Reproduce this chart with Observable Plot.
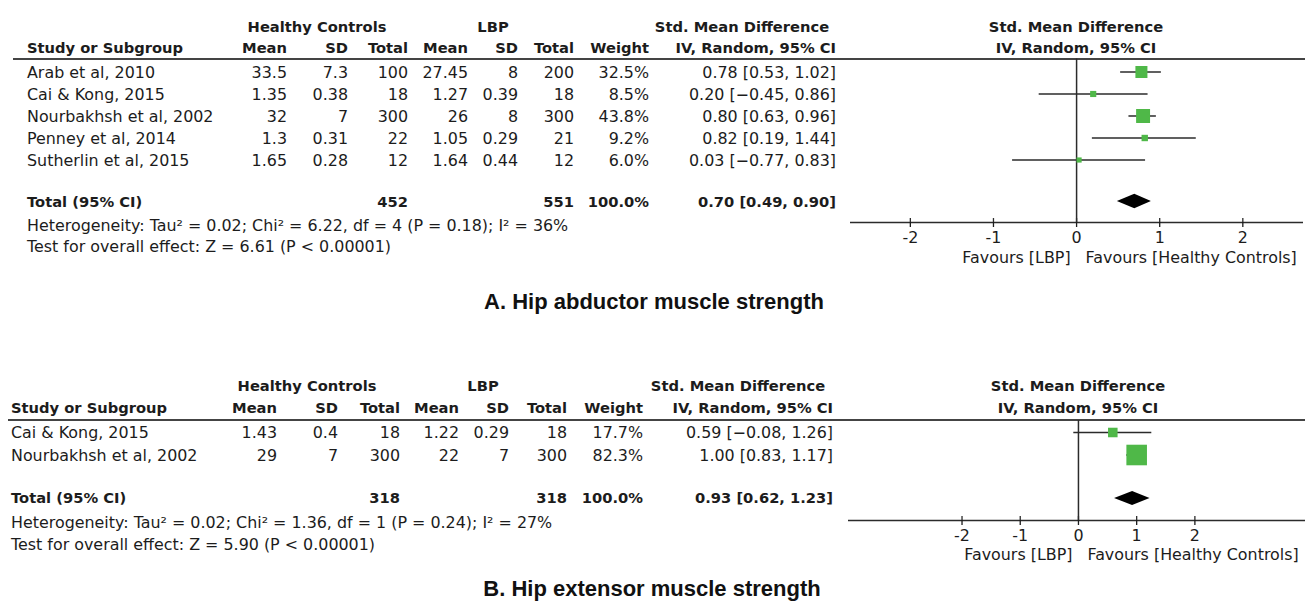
<!DOCTYPE html>
<html><head><meta charset="utf-8">
<script src="https://cdn.jsdelivr.net/npm/d3@7"></script>
<script src="https://cdn.jsdelivr.net/npm/@observablehq/plot@0.6"></script>
<style>
html,body{margin:0;padding:0;background:#fff;}
#page{position:relative;width:1305px;height:603px;overflow:hidden;font-family:"DejaVu Sans",sans-serif;color:#1c1c1c;}
.t{position:absolute;white-space:nowrap;line-height:1;font-size:15.9px;}
.b{font-weight:bold;font-size:14.7px;}
.rule{position:absolute;height:2px;background:#444;}
.cap{font-family:"Liberation Sans",Arial,sans-serif;font-weight:bold;font-size:22px;color:#111;}
.chart{position:absolute;}
</style></head><body><div id="page"></div>
<script>
// ---------- data: panel A (hip abductor) ----------
const studiesA = ["Arab et al, 2010", "Cai & Kong, 2015", "Nourbakhsh et al, 2002", "Penney et al, 2014", "Sutherlin et al, 2015"];
const hcMeanA = [33.5, 1.35, 32, 1.3, 1.65];
const hcSdA = [7.3, 0.38, 7, 0.31, 0.28];
const hcTotalA = [100, 18, 300, 22, 12];
const lbpMeanA = [27.45, 1.27, 26, 1.05, 1.64];
const lbpSdA = [8, 0.39, 8, 0.29, 0.44];
const lbpTotalA = [200, 18, 300, 21, 12];
const weightA = [32.5, 8.5, 43.8, 9.2, 6.0];
const smdA = [0.78, 0.20, 0.80, 0.82, 0.03];
const loA = [0.53, -0.45, 0.63, 0.19, -0.77];
const hiA = [1.02, 0.86, 0.96, 1.44, 0.83];
const totalsA = [452, 551];            // healthy controls, LBP
const pooledA = [0.70, 0.49, 0.90];    // estimate, lower, upper
const hetA = "Heterogeneity: Tau² = 0.02; Chi² = 6.22, df = 4 (P = 0.18); I² = 36%";
const testA = "Test for overall effect: Z = 6.61 (P < 0.00001)";
const captionA = "A. Hip abductor muscle strength";

// ---------- data: panel B (hip extensor) ----------
const studiesB = ["Cai & Kong, 2015", "Nourbakhsh et al, 2002"];
const hcMeanB = [1.43, 29];
const hcSdB = [0.4, 7];
const hcTotalB = [18, 300];
const lbpMeanB = [1.22, 22];
const lbpSdB = [0.29, 7];
const lbpTotalB = [18, 300];
const weightB = [17.7, 82.3];
const smdB = [0.59, 1.00];
const loB = [-0.08, 0.83];
const hiB = [1.26, 1.17];
const totalsB = [318, 318];
const pooledB = [0.93, 0.62, 1.23];
const hetB = "Heterogeneity: Tau² = 0.02; Chi² = 1.36, df = 1 (P = 0.24); I² = 27%";
const testB = "Test for overall effect: Z = 5.90 (P < 0.00001)";
const captionB = "B. Hip extensor muscle strength";

// shared labels
const colHeaders = ["Mean", "SD", "Total", "Mean", "SD", "Total", "Weight", "IV, Random, 95% CI"];
const groupHeaders = ["Healthy Controls", "LBP", "Std. Mean Difference"];
const axisTicks = [-2, -1, 0, 1, 2];
const favours = ["Favours [LBP]", "Favours [Healthy Controls]"];

// ---------- layout ----------
const page = document.getElementById("page");
function place(text, x, y, anchor, cls) {
  const d = document.createElement("div");
  d.className = "t" + (cls ? " " + cls : "");
  d.textContent = text;
  d.style.left = x + "px";
  d.style.top = y + "px";
  const tx = anchor === "end" ? "-100%" : anchor === "middle" ? "-50%" : "0";
  d.style.transform = `translate(${tx},-50%)`;
  page.appendChild(d);
}
function rule(x1, x2, y) {
  const d = document.createElement("div");
  d.className = "rule";
  d.style.left = x1 + "px"; d.style.width = (x2 - x1) + "px"; d.style.top = (y - 1) + "px";
  page.appendChild(d);
}
const fmt = v => (v < 0 ? "−" + Math.abs(v).toFixed(2) : v.toFixed(2));
const ci = (e, l, h) => `${fmt(e)} [${fmt(l)}, ${fmt(h)}]`;

function panel(P, L) {
  // group headers
  place(groupHeaders[0], L.hcCenter, L.yGroup, "middle", "b");
  place(groupHeaders[1], L.lbpCenter, L.yGroup, "middle", "b");
  place(groupHeaders[2], L.smdCenter, L.yGroup, "middle", "b");
  place("Study or Subgroup", L.xStudy, L.yHead, "start", "b");
  colHeaders.forEach((h, i) => place(h, L.cols[i], L.yHead, "end", "b"));
  rule(L.ruleX, 1305, L.yRule);
  P.studies.forEach((s, i) => {
    const y = L.rows[i];
    place(s, L.xStudy, y, "start");
    const vals = [P.hcMean[i], P.hcSd[i], P.hcTotal[i], P.lbpMean[i], P.lbpSd[i], P.lbpTotal[i],
      P.weight[i].toFixed(1) + "%", ci(P.smd[i], P.lo[i], P.hi[i])];
    vals.forEach((v, j) => place(String(v), L.cols[j], y, "end"));
  });
  place("Total (95% CI)", L.xStudy, L.yTotal, "start", "b");
  place(String(P.totals[0]), L.cols[2], L.yTotal, "end", "b");
  place(String(P.totals[1]), L.cols[5], L.yTotal, "end", "b");
  place("100.0%", L.cols[6], L.yTotal, "end", "b");
  place(ci(...P.pooled), L.cols[7], L.yTotal, "end", "b");
  place(P.het, L.xStudy, L.yHet, "start");
  place(P.test, L.xStudy, L.yTest, "start");
  place(P.caption, L.capX, L.capY, "middle", "cap");
  // forest plot headers
  place(groupHeaders[2], L.fpCenter, L.yGroup, "middle", "b");
  place(colHeaders[7], L.fpCenter, L.yHead, "middle", "b");

  // forest plot
  const data = P.studies.map((s, i) => ({row: i, smd: P.smd[i], lo: P.lo[i], hi: P.hi[i], w: P.weight[i]}));
  const t = L.totalRow, h = L.diamondHalf;
  const diamond = [
    {x: P.pooled[1], y1: t, y2: t},
    {x: P.pooled[0], y1: t - h, y2: t + h},
    {x: P.pooled[2], y1: t, y2: t}
  ];
  const line = "#2b2b2b";
  const chart = Plot.plot({
    width: 465, height: L.svgH,
    marginLeft: L.mL, marginRight: L.mR, marginTop: L.mT, marginBottom: L.mB,
    style: {fontFamily: "DejaVu Sans", fontSize: "15.9px", color: "#1c1c1c", background: "transparent", overflow: "visible"},
    x: {domain: L.xDomain},
    y: {domain: [L.yTopIdx, L.axisIdx], reverse: true, axis: null},
    r: {type: "sqrt", domain: [0, 100], range: [0, L.rmax]},
    marks: [
      Plot.ruleX([0], {stroke: line, strokeWidth: 1.5}),
      Plot.ruleY([L.axisIdx], {stroke: line, strokeWidth: 1.5}),
      Plot.ruleX(axisTicks, {x: d => d, y1: L.axisIdx, y2: L.axisIdx - L.tickUp, stroke: line, strokeWidth: 1.3}),
      Plot.axisX({ticks: axisTicks, tickSize: 5, tickPadding: 4, tickFormat: d => String(d), label: null, strokeWidth: 1.3}),
      Plot.ruleY(data, {y: "row", x1: "lo", x2: "hi", stroke: line, strokeWidth: 1.5}),
      Plot.dot(data, {x: "smd", y: "row", r: "w", symbol: "square", fill: "#4fb848"}),
      Plot.areaY(diamond, {x: "x", y1: "y1", y2: "y2", fill: "#000"}),
      Plot.text([favours[0]], {x: 0, y: L.axisIdx, dx: -6, dy: L.favDy, textAnchor: "end"}),
      Plot.text([favours[1]], {x: 0, y: L.axisIdx, dx: 9, dy: L.favDy, textAnchor: "start"})
    ]
  });
  chart.classList.add("chart");
  chart.style.left = "840px";
  chart.style.top = L.svgTop + "px";
  page.appendChild(chart);
}

panel(
  {studies: studiesA, hcMean: hcMeanA, hcSd: hcSdA, hcTotal: hcTotalA, lbpMean: lbpMeanA, lbpSd: lbpSdA,
   lbpTotal: lbpTotalA, weight: weightA, smd: smdA, lo: loA, hi: hiA, totals: totalsA, pooled: pooledA,
   het: hetA, test: testA, caption: captionA},
  {xStudy: 27, cols: [287, 348, 408, 468, 518, 574, 649, 836], hcCenter: 317, lbpCenter: 493, smdCenter: 742,
   yGroup: 27, yHead: 48, yRule: 58.5, ruleX: 13, rows: [73, 95, 117, 139, 161], yTotal: 202, yHet: 226, yTest: 247,
   capX: 654, capY: 302, fpCenter: 1076,
   svgTop: 40, svgH: 230, mL: 10, mR: 2, mT: 18.5, mB: 48, xDomain: [-2.72, 2.73],
   yTopIdx: -0.59, axisIdx: 6.84, totalRow: 5.886, diamondHalf: 0.33, tickUp: 0.18, rmax: 11.9, favDy: 35}
);
panel(
  {studies: studiesB, hcMean: hcMeanB, hcSd: hcSdB, hcTotal: hcTotalB, lbpMean: lbpMeanB, lbpSd: lbpSdB,
   lbpTotal: lbpTotalB, weight: weightB, smd: smdB, lo: loB, hi: hiB, totals: totalsB, pooled: pooledB,
   het: hetB, test: testB, caption: captionB},
  {xStudy: 11, cols: [277, 338, 400, 459, 509, 567, 643, 833], hcCenter: 307, lbpCenter: 483, smdCenter: 738,
   yGroup: 386, yHead: 408, yRule: 420, ruleX: 8, rows: [433, 456], yTotal: 498, yHet: 523, yTest: 545,
   capX: 652, capY: 589, fpCenter: 1078,
   svgTop: 400, svgH: 170, mL: 8, mR: 0, mT: 20, mB: 50, xDomain: [-3.95, 3.9],
   yTopIdx: -0.533, axisIdx: 3.91, totalRow: 2.93, diamondHalf: 0.31, tickUp: 0.18, rmax: 12.8, favDy: 34}
);
</script>
</body></html>
